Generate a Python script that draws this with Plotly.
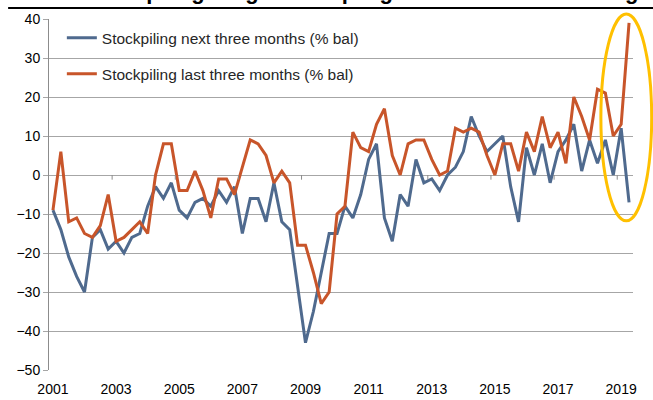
import pandas as pd
import plotly.graph_objects as go

# quarterly survey balances, 2001Q1 .. 2019Q2
quarters = pd.period_range("2001Q1", "2019Q2", freq="Q")
x_years = quarters.year + (quarters.quarter - 1) / 4

next_three = [-9, -14, -21, -26, -30, -16, -14, -19, -17, -20, -16, -15, -8,
              -3, -6, -2, -9, -11, -7, -6, -8, -4, -7, -3, -15, -6, -6, -12,
              -2, -12, -14, -28, -43, -35, -25, -15, -15, -8, -11, -5, 4, 8,
              -11, -17, -5, -8, 4, -2, -1, -4, 0, 2, 6, 15, 10, 6, 8, 10,
              -3, -12, 7, 0, 8, -2, 6, 9, 13, 1, 9, 3, 9, 0, 12, -7]

last_three = [-9, 6, -12, -11, -15, -16, -13, -5, -17, -16, -14, -12, -15,
              0, 8, 8, -4, -4, 1, -4, -11, -1, -1, -5, 2, 9, 8, 5, -2, 1,
              -2, -18, -18, -25, -33, -30, -10, -8, 11, 7, 6, 13, 17, 5, 0,
              8, 9, 9, 4, 0, 1, 12, 11, 12, 11, 5, 0, 8, 8, 1, 11, 6, 15,
              7, 11, 3, 20, 15, 9, 22, 21, 10, 13, 39]

tick_years = list(range(2001, 2020, 2))
# category-boundary tick marks on the zero line (every 8 quarters)
boundary_ticks = [2001 + (7.5 + 8 * k) / 4 for k in range(9)]

BLUE = "#4F6A8E"
RED = "#C8552A"
GRID = "#A6A6A6"

fig = go.Figure()

fig.add_trace(go.Scatter(
    x=x_years, y=next_three,
    name="Stockpiling next three months (% bal)",
    mode="lines", line=dict(color=BLUE, width=3),
    legendgroup="a"
))

fig.add_trace(go.Scatter(
    x=x_years, y=last_three,
    name="Stockpiling last three months (% bal)",
    mode="lines", line=dict(color=RED, width=3),
    legendgroup="b"
))

shapes = []
for t in boundary_ticks:
    shapes.append(dict(type="line", xref="x", yref="y", x0=t, x1=t, y0=0, y1=-1.2,
                       line=dict(color="#8C8C8C", width=1)))

# highlight ellipse around latest readings
shapes.append(dict(type="circle", xref="paper", yref="paper",
                   x0=0.945, x1=1.032, y0=0.425, y1=1.014,
                   line=dict(color="#FFC000", width=3)))

# rule under the (cropped) chart title
shapes.append(dict(type="line", xref="paper", yref="paper",
                   x0=-0.07, x1=1.04, y0=1.031, y1=1.031,
                   line=dict(color="black", width=2)))

fig.update_layout(
    width=653, height=400,
    margin=dict(l=49, r=20, t=19, b=30),
    plot_bgcolor="white", paper_bgcolor="white",
    font=dict(family="Liberation Sans, Arial, sans-serif", size=14, color="black"),
    showlegend=True,
    legend=dict(x=0.022, y=0.994, xanchor="left", yanchor="top",
                bgcolor="rgba(0,0,0,0)", tracegroupgap=13,
                font=dict(size=15.5, color="#262626")),
    shapes=shapes,
    annotations=[dict(
        text="<b>Chart 6: Stockpiling surge and dip signals troubles for GDP growth</b>",
        xref="paper", yref="paper", x=-0.092, y=1.038,
        xanchor="left", yanchor="bottom", showarrow=False,
        font=dict(size=22, color="black")
    )]
)

fig.update_xaxes(
    range=[2000.875, 2019.375],
    tickvals=tick_years, ticktext=[str(y) for y in tick_years],
    showgrid=False, zeroline=False, showline=False,
    ticks="outside", ticklen=6, tickcolor="rgba(0,0,0,0)",
    automargin=False
)

fig.update_yaxes(
    range=[-50, 40], dtick=10,
    showgrid=True, gridcolor=GRID, gridwidth=1,
    zeroline=False, showline=True, linecolor="#8C8C8C", linewidth=1,
    ticks="outside", ticklen=5, tickcolor=GRID,
    automargin=False
)

# drop the default body margin so the figure sits flush in the window
fig.write_html("out.html", config={"displayModeBar": False},
               post_script="document.body.style.margin='0';")
